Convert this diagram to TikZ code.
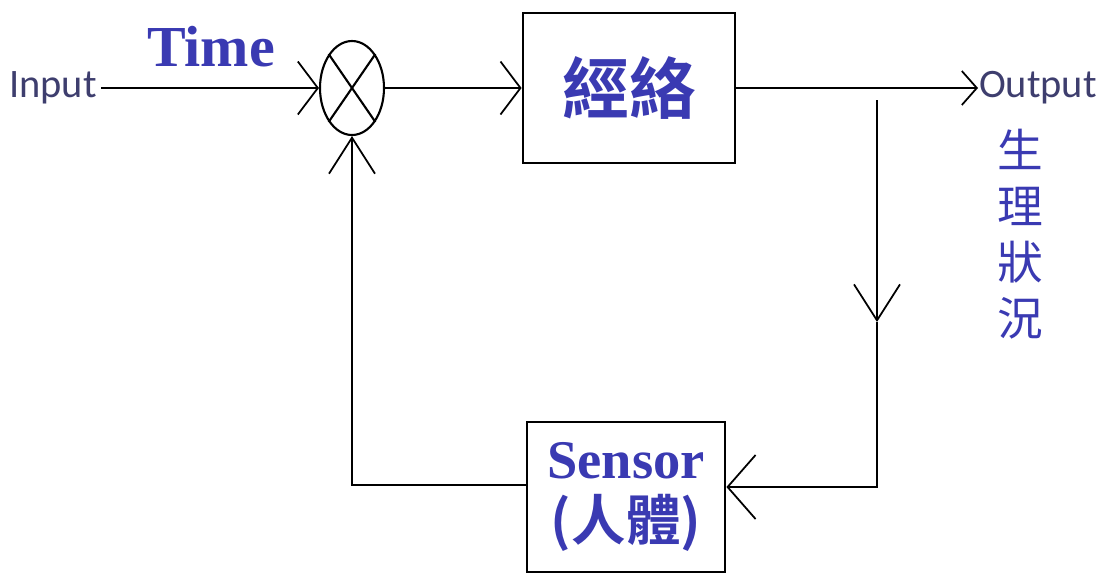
\documentclass[tikz,border=0pt]{standalone}
\usepackage{fontspec}
\setmainfont{Liberation Serif}
\newfontfamily\cjk{Noto Sans CJK TC}[BoldFont={Noto Sans CJK TC Bold}]
\newfontfamily\iofont{Carlito}
\usepackage{tikz}
\usetikzlibrary{positioning}
\usetikzlibrary{shapes,calc,arrows.meta}
\definecolor{labelblue}{RGB}{58,58,178}
\definecolor{iogray}{RGB}{62,62,110}

\begin{document}
\begin{tikzpicture}[line width=.6pt,
  block/.style={draw,line width=.8pt,inner sep=0pt},
  io/.style={text=iogray,font=\iofont\fontsize{11.5}{13}\selectfont,inner sep=1pt},
  tag/.style={text=labelblue,font=\bfseries\fontsize{16.5}{19}\selectfont},
  chev/.style={-{Straight Barb[length=2mm,width=5.3mm,line width=.5pt]}},
  chevsmall/.style={-{Straight Barb[length=1.5mm,width=3.4mm,line width=.5pt]}},
  chevlong/.style={-{Straight Barb[length=3.6mm,width=4.6mm,line width=.5pt]}},
  chevwide/.style={-{Straight Barb[length=2.8mm,width=6.4mm,line width=.5pt]}}]
\useasboundingbox (0,0) rectangle (11.08,5.76);
\node[io] at (0.53,4.88) (In) {Input};
\node[tag] at (2.11,5.29) (Time) {Time};
\node[ellipse,draw,minimum width=0.64cm,minimum height=0.94cm,inner sep=0pt] at (3.52,4.88) (Sum) {};
\draw (Sum.north east) -- (Sum.south west);
\draw (Sum.north west) -- (Sum.south east);
\node[block,minimum width=2.12cm,minimum height=1.5cm,text=labelblue,
  font=\cjk\bfseries\fontsize{19}{22}\selectfont] at (6.29,4.88) (Meridian) {經絡};
\node[io,anchor=west,inner sep=0pt] at (9.78,4.88) (Out) {Output};
\node[text=labelblue,font=\cjk\fontsize{13}{16}\selectfont,align=center] at (10.20,3.42) (State) {生\\理\\狀\\況};
\node[block,minimum width=1.98cm,minimum height=1.5cm,align=center,text=labelblue,
  font=\bfseries\fontsize{15.5}{17.6}\selectfont] at (6.26,0.79) (Sensor) {Sensor\\{\cjk (人體)}};
\coordinate (Tap) at (8.77,4.76);
\coordinate (Mid) at (8.77,2.54);
\coordinate (Turn) at (8.77,0.89);
\coordinate (Back) at (3.52,0.91);
% forward path
\draw[chev] (In) -- (Sum);
\draw[chev] (Sum) -- (Meridian);
\draw[chevsmall] (Meridian) -- (Out);
% feedback path
\draw[chevlong] (Tap) -- (Mid);
\draw[chevwide] (Mid) -- (Turn) -- (Sensor.east |- Turn);
\draw[chevlong] (Sensor.west |- Back) -- (Back) -- (Sum.south);
\end{tikzpicture}
\end{document}
